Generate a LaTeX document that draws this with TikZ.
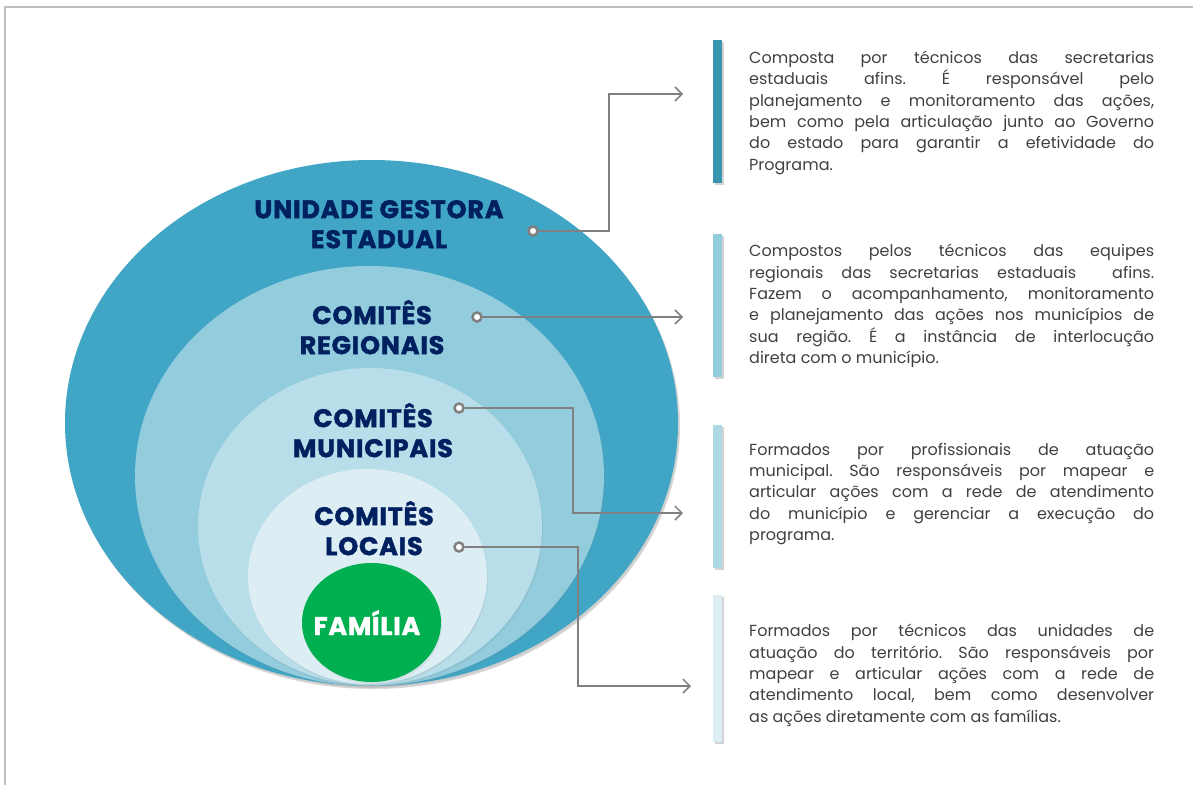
\documentclass[tikz,border=0pt]{standalone}
\usepackage{fontspec}
\setmainfont{Poppins}
\newfontfamily\headfont{Poppins}[LetterSpace=3, BoldFeatures={FakeBold=1.6}]
\usepackage{tikz}
\usetikzlibrary{arrows.meta,shapes.geometric,positioning,shadows}
\definecolor{ugblue}{RGB}{65,166,197}
\definecolor{ugbar}{RGB}{58,150,176}
\definecolor{regblue}{RGB}{146,204,221}
\definecolor{munblue}{RGB}{184,222,233}
\definecolor{munbar}{RGB}{174,216,228}
\definecolor{locblue}{RGB}{220,238,244}
\definecolor{famgreen}{RGB}{0,176,80}
\definecolor{headnavy}{RGB}{0,32,96}
\definecolor{textgray}{RGB}{64,64,64}
\definecolor{linegray}{RGB}{128,128,128}
\definecolor{framegray}{RGB}{191,191,191}
\tikzstyle{ring} = [ellipse, draw=none, inner sep=0pt, drop shadow={opacity=0.12, shadow xshift=1pt, shadow yshift=-2pt}]
\tikzstyle{head} = [align=center, inner sep=0pt, anchor=north, text=headnavy, font=\headfont\fontsize{25.5}{30}\selectfont\bfseries]
\tikzstyle{bar} = [rectangle, draw=none, inner sep=0pt, minimum width=9pt, minimum height=143pt, drop shadow={opacity=0.35, shadow xshift=2pt, shadow yshift=-2pt}]
\tikzstyle{desc} = [text width=405pt, align=justify, inner sep=0pt, anchor=north west, text=textgray, font=\fontsize{16}{21.3}\selectfont\frenchspacing]
\tikzstyle{dot} = [circle, draw=linegray, fill=white, line width=2.5pt, minimum size=9pt, inner sep=0pt]
\tikzstyle{link} = [draw=linegray, line width=1.5pt, -{Straight Barb[length=7pt,width=14pt]}]

\begin{document}
\begin{tikzpicture}[x=1pt, y=-1pt]
\useasboundingbox (0,0) rectangle (1193,785);
% Frame
\draw[framegray, line width=2pt] (5,785) -- (5,7) -- (1193,7);

% Nested levels
\node[ring, fill=ugblue, minimum width=613pt, minimum height=526pt, drop shadow={opacity=0.3, shadow xshift=2pt, shadow yshift=-3pt}] (estadual) at (371.5,423) {};
\node[ring, fill=regblue, minimum width=469pt, minimum height=420pt] (regional) at (369.5,476) {};
\node[ring, fill=munblue, minimum width=344pt, minimum height=317pt] (municipal) at (370,526.5) {};
\node[ring, fill=locblue, minimum width=239pt, minimum height=215pt] (local) at (367.5,576.5) {};
\node[ring, fill=famgreen, minimum width=139pt, minimum height=119pt] (familia) at (371.5,622.5) {};

% Level names
\node[head] (tEstadual) at (379,197) {\strut UNIDADE GESTORA\\ESTADUAL\strut};
\node[head] (tRegional) at (372,300) {\strut COMITÊS\\REGIONAIS\strut};
\node[head] (tMunicipal) at (373,403) {\strut COMITÊS\\MUNICIPAIS\strut};
\node[head] (tLocal) at (374,501) {\strut COMITÊS\\LOCAIS\strut};
\node[head, text=white, anchor=base] (tFamilia) at (367,635) {FAMÍLIA};

% Side bars
\node[bar, fill=ugbar] (bar1) at (717.5,111.5) {};
\node[bar, fill=regblue] (bar2) at (717.5,305) {};
\node[bar, fill=munbar] (bar3) at (717.5,496) {};
\node[bar, fill=locblue, minimum height=147pt] (bar4) at (717.5,668.5) {};

% Descriptions
\node[desc] (d1) at (749,48.4) {\strut Composta por técnicos das secretarias\linebreak
estaduais afins. É responsável pelo\linebreak
planejamento e monitoramento das ações,\linebreak
bem como pela articulação junto ao Governo\linebreak
do estado para garantir a efetividade do\linebreak
Programa.\strut};
\node[desc] (d2) at (749,241.8) {\strut Compostos pelos técnicos das equipes\linebreak
regionais das secretarias estaduais \ afins.\linebreak
Fazem o acompanhamento, monitoramento\linebreak
e planejamento das ações nos municípios de\linebreak
sua região. É a instância de interlocução\linebreak
direta com o município.\strut};
\node[desc] (d3) at (749,440.1) {\strut Formados por profissionais de atuação\linebreak
municipal. São responsáveis por mapear e\linebreak
articular ações com a rede de atendimento\linebreak
do município e gerenciar a execução do\linebreak
programa.\strut};
\node[desc] (d4) at (749,621.8) {\strut Formados por técnicos das unidades de\linebreak
atuação do território. São responsáveis por\linebreak
mapear e articular ações com a rede de\linebreak
atendimento local, bem como desenvolver\linebreak
as ações diretamente com as famílias.\strut};

% Connectors
\node[dot] (p1) at (533,231) {};
\node[dot] (p2) at (477,317) {};
\node[dot] (p3) at (459,408) {};
\node[dot] (p4) at (459,547) {};
\coordinate (a1) at (683,94);
\coordinate (a2) at (683,317);
\coordinate (a3) at (683,513);
\coordinate (a4) at (691,686);
\draw[link] (p1) -- (609,231) |- (a1);
\draw[link] (p2) -- (a2);
\draw[link] (p3) -- (573,408) |- (a3);
\draw[link] (p4) -- (578,547) |- (a4);
\end{tikzpicture}
\end{document}
